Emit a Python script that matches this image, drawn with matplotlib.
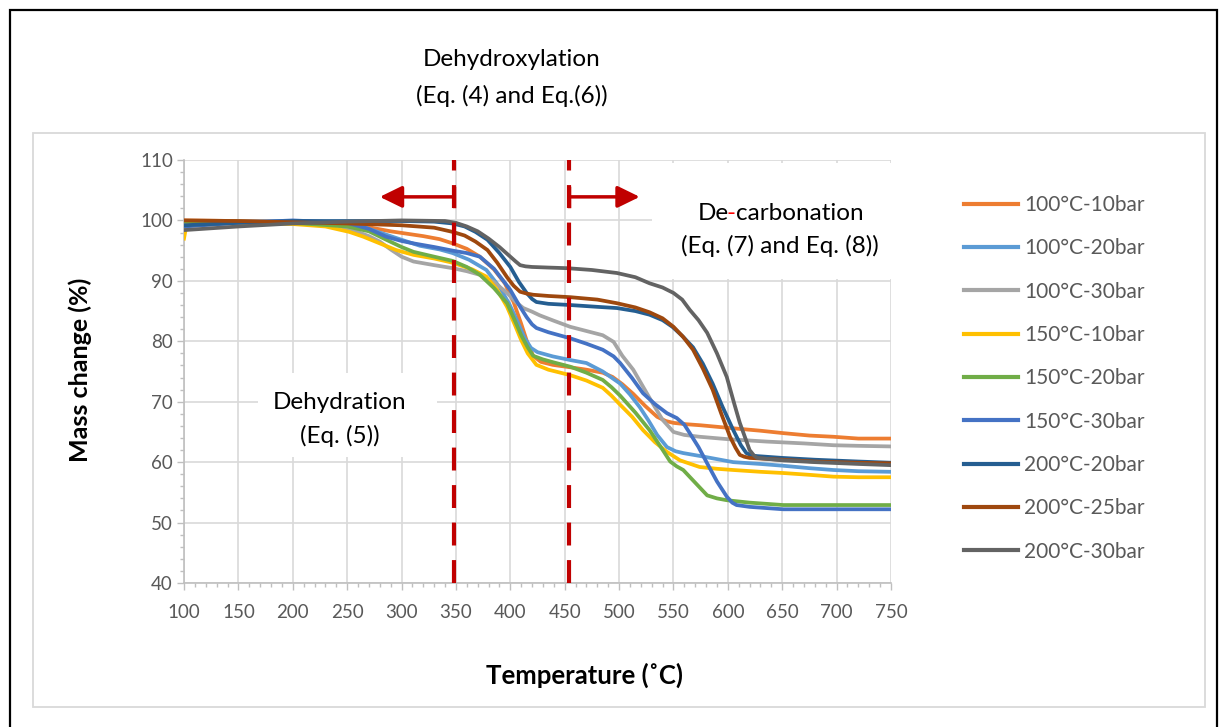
import matplotlib
matplotlib.use("Agg")
import matplotlib.pyplot as plt
from matplotlib.patches import Rectangle
from matplotlib.ticker import MultipleLocator

plt.rcParams['font.family'] = ['Lato', 'DejaVu Sans']

# temperature (C) / mass change (%)
t_100_10 = [100, 150, 200, 240, 260, 275, 290, 305, 320, 335, 347, 360, 372, 385, 395, 403, 410, 416, 421, 428, 439, 455, 470, 485, 494, 503, 513, 524, 535, 543, 550, 560, 575, 605, 630, 651, 675, 697, 720, 750]
m_100_10 = [100.0, 99.9, 99.7, 99.5, 99.2, 98.7, 98.2, 97.8, 97.4, 96.9, 96.2, 95.3, 94.0, 91.9, 89.6, 86.5, 82.9, 79.6, 77.6, 76.6, 76.1, 75.7, 75.3, 74.8, 74.1, 72.9, 71.3, 69.3, 67.5, 66.8, 66.5, 66.3, 66.1, 65.6, 65.2, 64.8, 64.4, 64.2, 63.9, 63.9]

t_100_20 = [100, 150, 200, 240, 260, 280, 300, 317, 335, 347, 362, 378, 390, 399, 406, 413, 419, 425, 439, 455, 470, 485, 501, 510, 519, 527, 535, 544, 552, 559, 575, 605, 630, 651, 675, 697, 720, 750]
m_100_20 = [99.4, 99.8, 99.9, 99.6, 99.2, 98.0, 96.8, 95.8, 95.2, 94.6, 93.5, 91.8, 89.0, 86.2, 83.5, 80.6, 78.9, 78.2, 77.5, 76.9, 76.4, 75.0, 73.0, 71.2, 69.1, 66.9, 64.5, 62.5, 61.8, 61.5, 61.0, 60.0, 59.7, 59.4, 59.0, 58.7, 58.5, 58.4]

t_100_30 = [100, 150, 200, 240, 255, 270, 280, 290, 300, 311, 330, 347, 360, 372, 385, 397, 405, 412, 420, 427, 440, 455, 470, 485, 495, 503, 513, 522, 531, 540, 550, 560, 574, 600, 636, 670, 697, 720, 750]
m_100_30 = [99.6, 99.7, 99.6, 99.2, 98.4, 97.4, 96.5, 95.2, 94.0, 93.2, 92.6, 92.1, 91.6, 91.0, 89.8, 88.0, 86.5, 85.5, 84.9, 84.3, 83.4, 82.4, 81.7, 81.0, 79.9, 77.6, 75.3, 72.5, 69.7, 67.0, 65.0, 64.5, 64.2, 63.8, 63.4, 63.1, 62.8, 62.7, 62.6]

t_150_10 = [100, 102, 104, 150, 200, 230, 252, 265, 280, 295, 311, 330, 347, 365, 378, 388, 397, 404, 410, 416, 424, 435, 455, 470, 485, 493, 501, 512, 522, 533, 544, 556, 574, 590, 605, 630, 651, 675, 697, 720, 750]
m_150_10 = [97.0, 99.0, 99.6, 99.6, 99.4, 99.0, 98.1, 97.3, 96.2, 95.1, 94.3, 93.7, 93.0, 91.9, 90.7, 88.5, 85.7, 82.8, 80.2, 78.0, 76.1, 75.3, 74.4, 73.5, 72.3, 71.0, 69.5, 67.5, 65.3, 63.3, 61.7, 60.3, 59.2, 58.9, 58.7, 58.4, 58.2, 57.9, 57.6, 57.5, 57.5]

t_150_20 = [100, 150, 200, 250, 270, 286, 300, 311, 330, 347, 360, 372, 385, 397, 404, 410, 416, 421, 430, 440, 455, 470, 485, 493, 501, 515, 528, 538, 547, 553, 559, 570, 581, 590, 599, 620, 651, 700, 750]
m_150_20 = [99.8, 99.8, 99.6, 99.0, 98.2, 96.8, 95.6, 94.8, 94.0, 93.3, 92.3, 91.0, 88.8, 86.3, 83.5, 81.0, 79.0, 77.6, 77.0, 76.5, 75.8, 74.8, 73.6, 72.4, 71.0, 68.2, 65.3, 62.6, 60.1, 59.3, 58.7, 56.6, 54.5, 54.0, 53.7, 53.3, 52.9, 52.9, 52.9]

t_150_30 = [100, 150, 200, 250, 270, 286, 300, 311, 330, 347, 360, 372, 385, 400, 408, 415, 420, 424, 435, 455, 470, 485, 495, 501, 512, 522, 533, 544, 553, 560, 565, 573, 581, 590, 599, 604, 608, 620, 651, 700, 750]
m_150_30 = [99.0, 99.6, 100.0, 99.6, 98.6, 97.3, 96.6, 96.2, 95.6, 95.0, 94.6, 94.0, 92.0, 88.5, 86.0, 84.0, 82.8, 82.2, 81.5, 80.5, 79.6, 78.6, 77.5, 76.4, 73.9, 71.4, 69.6, 68.1, 67.3, 66.2, 64.8, 62.5, 59.8, 56.8, 54.3, 53.3, 52.9, 52.6, 52.2, 52.2, 52.2]

t_200_20 = [100, 150, 200, 250, 300, 330, 347, 358, 368, 379, 390, 400, 408, 415, 420, 424, 435, 455, 480, 498, 515, 528, 540, 549, 558, 568, 577, 586, 595, 605, 612, 617, 622, 627, 650, 680, 720, 750]
m_200_20 = [99.2, 99.6, 99.9, 99.9, 99.9, 99.8, 99.5, 99.0, 98.1, 96.8, 94.6, 92.3, 89.8, 88.0, 87.0, 86.5, 86.2, 86.0, 85.7, 85.5, 85.0, 84.4, 83.5, 82.4, 80.9, 79.0, 76.3, 73.0, 69.2, 65.3, 62.8, 61.5, 61.1, 61.0, 60.7, 60.4, 60.1, 59.9]

t_200_25 = [100, 150, 200, 250, 300, 330, 347, 358, 368, 379, 388, 397, 403, 409, 415, 421, 435, 455, 480, 498, 515, 528, 540, 550, 559, 568, 577, 586, 594, 602, 607, 611, 615, 620, 650, 680, 720, 750]
m_200_25 = [100.0, 99.9, 99.7, 99.5, 99.2, 98.8, 98.1, 97.5, 96.5, 95.1, 93.0, 90.6, 89.2, 88.2, 87.9, 87.7, 87.5, 87.3, 86.9, 86.3, 85.6, 84.8, 83.8, 82.4, 80.7, 78.6, 75.5, 72.0, 68.0, 64.2, 62.4, 61.2, 60.9, 60.7, 60.4, 60.1, 59.9, 59.8]

t_200_30 = [100, 150, 200, 250, 300, 340, 350, 360, 370, 380, 390, 400, 405, 409, 414, 420, 435, 452, 475, 498, 515, 528, 540, 550, 558, 565, 573, 581, 590, 599, 606, 611, 616, 620, 624, 627, 650, 680, 720, 750]
m_200_30 = [98.4, 99.0, 99.5, 99.8, 100.0, 99.9, 99.6, 99.0, 98.2, 97.0, 95.6, 94.0, 93.2, 92.6, 92.4, 92.3, 92.2, 92.1, 91.8, 91.3, 90.6, 89.6, 88.9, 88.0, 86.9, 85.2, 83.5, 81.4, 78.0, 74.1, 69.6, 66.5, 64.0, 62.0, 61.1, 60.7, 60.3, 60.0, 59.7, 59.5]

labels = ['100°C-10bar', '100°C-20bar', '100°C-30bar', '150°C-10bar', '150°C-20bar',
          '150°C-30bar', '200°C-20bar', '200°C-25bar', '200°C-30bar']
temps = [t_100_10, t_100_20, t_100_30, t_150_10, t_150_20, t_150_30, t_200_20, t_200_25, t_200_30]
masses = [m_100_10, m_100_20, m_100_30, m_150_10, m_150_20, m_150_30, m_200_20, m_200_25, m_200_30]
colors = ['#ED7D31', '#5B9BD5', '#A5A5A5', '#FFC000', '#70AD47',
          '#4472C4', '#255E91', '#9E480E', '#636363']

# stage boundaries (C)
bounds = [348, 454]

W, H = 1219, 727
fig = plt.figure(figsize=(W / 100, H / 100), dpi=100)

# outer black frame and inner grey chart-area frame
fig.add_artist(Rectangle((10 / W, -0.01), 1207 / W, 1 - 10 / H + 0.01, transform=fig.transFigure,
                         fill=False, ec='black', lw=1.6))
fig.add_artist(Rectangle((33 / W, 1 - 707 / H), 1172 / W, 574 / H, transform=fig.transFigure,
                         fill=False, ec='#D9D9D9', lw=1.3))

ax = fig.add_axes([184 / W, 1 - 583 / H, 707 / W, 423 / H])

for t, m, c, lab in zip(temps, masses, colors, labels):
    ax.plot(t, m, color=c, lw=2.7, label=lab, zorder=3, solid_joinstyle='round')

ax.set_xlim(100, 750)
ax.set_ylim(40, 110)
ax.xaxis.set_major_locator(MultipleLocator(50))
ax.xaxis.set_minor_locator(MultipleLocator(10))
ax.yaxis.set_major_locator(MultipleLocator(10))
ax.yaxis.set_minor_locator(MultipleLocator(2))
ax.grid(True, which='major', color='#D9D9D9', lw=1.2)
ax.set_axisbelow(True)
for s in ['top', 'right']:
    ax.spines[s].set_visible(False)
for s in ['left', 'bottom']:
    ax.spines[s].set_color('#BFBFBF')
    ax.spines[s].set_linewidth(1.2)
ax.tick_params(which='major', length=5, width=1, color='#BFBFBF', labelsize=13.5,
               labelcolor='#595959')
ax.tick_params(which='minor', length=3, width=1, color='#BFBFBF')
ax.tick_params(axis='x', pad=10)
ax.tick_params(axis='y', pad=3)

ax.set_xlabel('Temperature (˚C)', fontsize=18.5, fontweight='bold')
ax.set_ylabel('Mass change (%)', fontsize=18, fontweight='bold')
ax.xaxis.label.set_verticalalignment('center')
ax.yaxis.label.set_verticalalignment('center')
ax.xaxis.set_label_coords((585 - 184) / 707, (583 - 675) / 423)
ax.yaxis.set_label_coords((80 - 184) / 707, (583 - 370) / 423)

# white boxes behind the stage labels
ax.add_patch(Rectangle((168, 60.9), 164.6, 13.9, fc='white', ec='none', zorder=1))
ax.add_patch(Rectangle((530, 90.3), 221, 19.2, fc='white', ec='none', zorder=1, clip_on=False))

red = '#C00000'
for b in bounds:
    ax.axvline(b, color=red, lw=3, ls=(0, (5.5, 3.5)), zorder=4)

# arrows
arrow_y = 103.9
ax.plot([bounds[0], bounds[0]], [102.4, 105.4], color=red, lw=2.5, zorder=5)
ax.plot([bounds[1], bounds[1]], [102.4, 105.4], color=red, lw=2.5, zorder=5)
ax.annotate('', xy=(280, arrow_y), xytext=(bounds[0], arrow_y),
            arrowprops=dict(arrowstyle='-|>,head_length=0.45,head_width=0.22', color=red,
                            lw=2.5, shrinkA=0, shrinkB=0, mutation_scale=30), zorder=5)
ax.annotate('', xy=(519, arrow_y), xytext=(bounds[1], arrow_y),
            arrowprops=dict(arrowstyle='-|>,head_length=0.45,head_width=0.22', color=red,
                            lw=2.5, shrinkA=0, shrinkB=0, mutation_scale=30), zorder=5)

# stage labels
fs = 17.5
ax.text(243, 69.8, 'Dehydration', ha='center', va='center', fontsize=fs, zorder=6)
ax.text(243, 64.3, '(Eq. (5))', ha='center', va='center', fontsize=fs, zorder=6)
ax.text(648, 95.7, '(Eq. (7) and Eq. (8))', ha='center', va='center', fontsize=fs, zorder=6)

# "De-carbonation" with a red hyphen, written in three chained parts
base_y = 100.0
fig.canvas.draw()
r = fig.canvas.get_renderer()
tmp = ax.text(648, base_y, 'De-carbonation', ha='center', va='baseline', fontsize=fs)
x_left = ax.transData.inverted().transform((tmp.get_window_extent(r).x0, 0))[0]
tmp.remove()
p1 = ax.text(x_left + 1, base_y, 'De', ha='left', va='baseline', fontsize=fs, zorder=6)
p2 = ax.annotate('-', xy=(1, 0), xycoords=p1, xytext=(-1.5, 0), textcoords='offset points',
                 ha='left', va='bottom', fontsize=fs, color='#FF0000', zorder=6)
ax.annotate('carbonation', xy=(1, 0), xycoords=p2, xytext=(0.6, 0), textcoords='offset points',
            ha='left', va='bottom', fontsize=fs, zorder=6)

fig.text(512 / W, 1 - 60 / H, 'Dehydroxylation', ha='center', va='center', fontsize=fs)
fig.text(512 / W, 1 - 96 / H, '(Eq. (4) and Eq.(6))', ha='center', va='center', fontsize=fs)

leg = fig.legend(loc='upper left', bbox_to_anchor=(964 / W, 1 - 195 / H), frameon=False,
                 fontsize=15, handlelength=2.6, handletextpad=0.3, labelspacing=1.12,
                 borderpad=0, borderaxespad=0)
for txt in leg.get_texts():
    txt.set_color('#595959')
for ln in leg.get_lines():
    ln.set_linewidth(3)

fig.savefig('out.png', dpi=100)
